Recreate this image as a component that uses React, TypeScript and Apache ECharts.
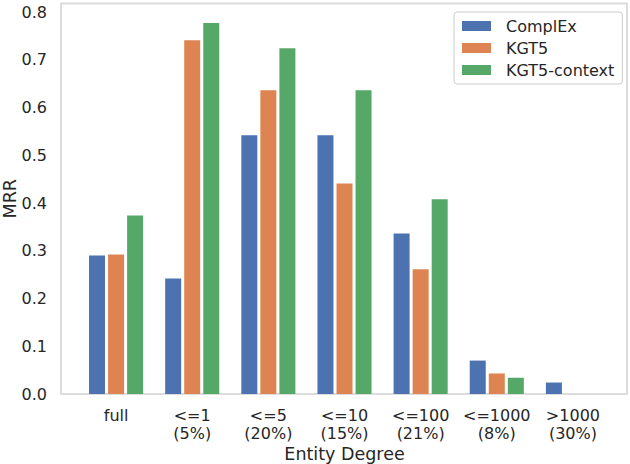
import React, { useEffect, useRef } from "react";
import * as echarts from "echarts";

const categories = ["full", "<=1\n(5%)", "<=5\n(20%)", "<=10\n(15%)", "<=100\n(21%)", "<=1000\n(8%)", ">1000\n(30%)"];
const complex = [0.29, 0.242, 0.542, 0.542, 0.336, 0.07, 0.024];
const kgt5 = [0.292, 0.741, 0.636, 0.441, 0.261, 0.043, 0];
const kgt5ctx = [0.374, 0.777, 0.724, 0.636, 0.408, 0.034, 0];
const yTicks = [0, 0.1, 0.2, 0.3, 0.4, 0.5, 0.6, 0.7, 0.8];

const FONT = "DejaVu Sans";
const TXT = "#262626";

export default function App() {
  const ref = useRef<HTMLDivElement>(null);
  useEffect(() => {
    const chart = echarts.init(ref.current!, null, { renderer: "svg" });
    const gridTop = 3.5;
    const gridBottom = 394;
    const yMax = 0.8 + (12 - gridTop) / ((gridBottom - 12) / 0.8);
    const mk = (name: string, data: number[], color: string) => ({
      name,
      type: "bar",
      data,
      barWidth: 16,
      barGap: "19%",
      itemStyle: { color },
    });
    chart.setOption({
      animation: false,
      backgroundColor: "#ffffff",
      textStyle: { fontFamily: FONT, color: TXT },
      grid: {
        left: 78,
        right: 19,
        top: gridTop,
        bottom: 464 - gridBottom,
        containLabel: false,
        outerBoundsMode: "none",
      },
      xAxis: {
        type: "category",
        data: categories,
        axisLine: { show: false },
        axisTick: { show: false },
        axisLabel: {
          color: TXT,
          fontFamily: FONT,
          fontSize: 16,
          lineHeight: 18.5,
          margin: 12,
          interval: 0,
          hideOverlap: false,
        },
        name: "Entity Degree",
        nameLocation: "middle",
        nameGap: 51,
        nameMoveOverlap: false,
        nameTextStyle: { color: TXT, fontFamily: FONT, fontSize: 17.5 },
      },
      yAxis: {
        type: "value",
        min: 0,
        max: yMax,
        interval: 0.1,
        splitLine: { show: false },
        axisLine: { show: false },
        axisTick: { show: false },
        axisLabel: {
          color: TXT,
          fontFamily: FONT,
          fontSize: 16,
          margin: 31,
          formatter: (v: number) => {
            const r = Math.round(v * 10) / 10;
            return yTicks.some((t) => Math.abs(t - r) < 1e-9) && Math.abs(v - r) < 1e-6 ? r.toFixed(1) : "";
          },
        },
        name: "MRR",
        nameLocation: "middle",
        nameGap: 59,
        nameMoveOverlap: false,
        nameTextStyle: { color: TXT, fontFamily: FONT, fontSize: 17.5 },
      },
      legend: {
        orient: "vertical",
        left: 454,
        top: 12,
        itemWidth: 29,
        itemHeight: 10,
        itemGap: 6,
        padding: [6, 8, 6, 8],
        borderColor: "#cccccc",
        borderWidth: 1,
        borderRadius: 3,
        backgroundColor: "rgba(255,255,255,0.8)",
        icon: "rect",
        textStyle: { color: TXT, fontFamily: FONT, fontSize: 16, padding: [0, 0, 0, 10] },
        data: ["ComplEx", "KGT5", "KGT5-context"],
      },
      graphic: [
        {
          type: "rect",
          shape: { x: 61, y: gridTop, width: 566, height: gridBottom - gridTop },
          style: { fill: "none", stroke: "#dcdcdc", lineWidth: 2 },
          silent: true,
          z: -1,
        },
      ],
      series: [
        mk("ComplEx", complex, "#4c72b0"),
        mk("KGT5", kgt5, "#dd8452"),
        mk("KGT5-context", kgt5ctx, "#55a868"),
      ],
    });
    return () => chart.dispose();
  }, []);
  return (
    <div
      ref={ref}
      style={{ position: "fixed", left: 0, top: 0, width: 630, height: 464 }}
    />
  );
}
